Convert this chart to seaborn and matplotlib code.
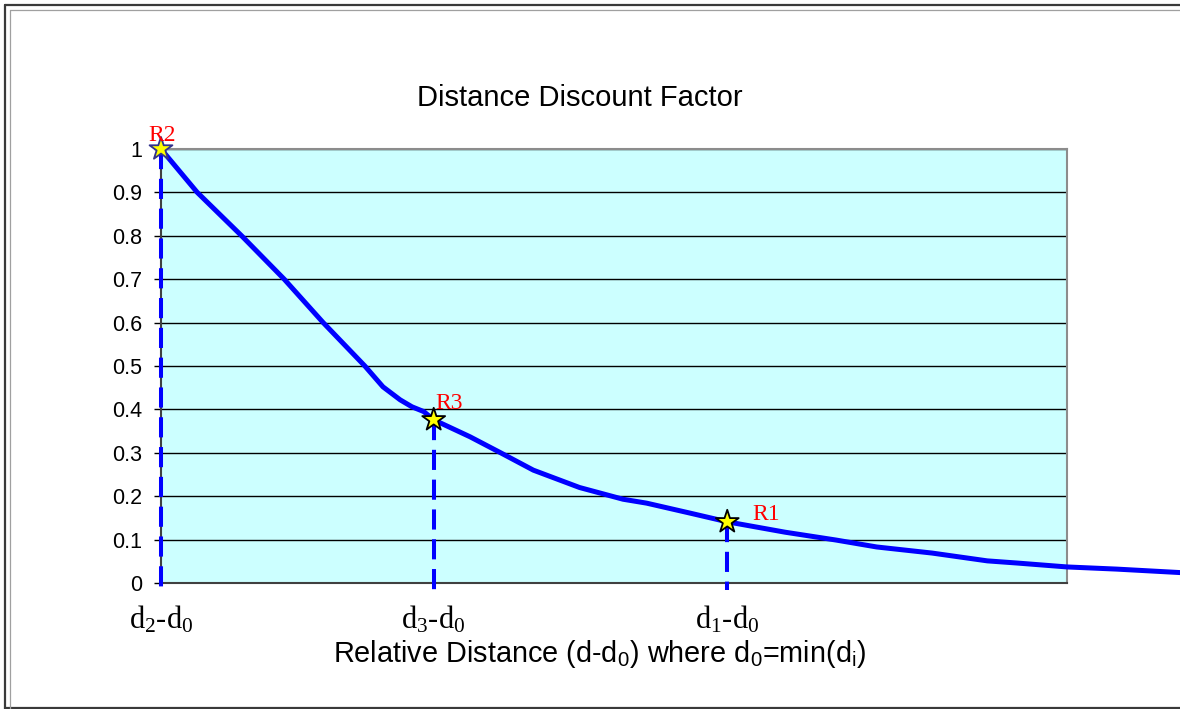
import matplotlib
matplotlib.use("Agg")
import matplotlib.pyplot as plt
import seaborn as sns
from matplotlib.lines import Line2D

# Discount factor as a function of relative distance (d - d0)
distance = [0.0, 0.40, 0.89, 1.36, 1.79, 2.25, 2.45, 2.64, 2.77, 2.90,
            3.01, 3.41, 3.74, 4.11, 4.62, 5.10, 5.36, 5.84, 6.25, 6.89,
            7.45, 7.90, 8.51, 9.12, 9.45, 10.0, 10.55, 11.25]
discount = [1.0, 0.90, 0.80, 0.70, 0.60, 0.50, 0.452, 0.422, 0.406, 0.395,
            0.376, 0.337, 0.301, 0.260, 0.220, 0.193, 0.184, 0.161, 0.141, 0.117,
            0.099, 0.083, 0.069, 0.051, 0.046, 0.037, 0.032, 0.024]

# Reference locations marked on the curve
ref_names = ["R2", "R3", "R1"]
ref_dist = [0.0, 3.01, 6.25]
ref_factor = [1.0, 0.376, 0.141]
ref_edge = ["#33338C", "black", "black"]
ref_label_offset = [(1.0, 6.0), (1.5, 8.0), (18.0, 1.5)]
ref_label_ha = ["center", "left", "left"]

xtick_labels = [r"$\mathregular{d_2}$-$\mathregular{d_0}$",
                r"$\mathregular{d_3}$-$\mathregular{d_0}$",
                r"$\mathregular{d_1}$-$\mathregular{d_0}$"]
ytick_values = [0.0, 0.1, 0.2, 0.3, 0.4, 0.5, 0.6, 0.7, 0.8, 0.9, 1.0]
ytick_labels = ["0", "0.1", "0.2", "0.3", "0.4", "0.5", "0.6", "0.7", "0.8", "0.9", "1"]

sns.set_style("white")
plt.rcParams["font.family"] = ["Liberation Sans", "DejaVu Sans"]

W, H = 1180, 709
fig = plt.figure(figsize=(W / 100, H / 100), dpi=100, facecolor="white")
ax = fig.add_axes([161 / W, 1 - 583 / H, 906 / W, 434 / H])
ax.set_facecolor("#CCFFFF")
ax.set_xlim(0, 10)
ax.set_ylim(0, 1)

# horizontal grid
ax.set_yticks(ytick_values, ytick_labels)
ax.yaxis.grid(True, color="black", lw=1.0)
ax.xaxis.grid(False)
ax.set_axisbelow(True)
ax.tick_params(axis="y", left=True, length=5, width=1.0, color="black",
               pad=8.5, labelsize=15.5, labelcolor="black")

# x ticks at the reference distances
ax.set_xticks(ref_dist, xtick_labels)
ax.tick_params(axis="x", bottom=True, length=0, pad=15, labelsize=22,
               labelcolor="black", labelfontfamily="Liberation Serif")

for side in ["left", "bottom"]:
    ax.spines[side].set_color("#404040")
    ax.spines[side].set_linewidth(1.5)
for side in ["top", "right"]:
    ax.spines[side].set_color("#8C8C8C")
    ax.spines[side].set_linewidth(1.5)

# dashed drop lines from each reference point
for x, y in zip(ref_dist, ref_factor):
    ax.plot([x, x], [y, -0.015], color="#0000FF", lw=2.9,
            linestyle=(0, (5.0, 2.4)), clip_on=False, zorder=4)

# discount curve
sns.lineplot(x=distance, y=discount, ax=ax, color="#0000FF", lw=3.6,
             sort=False, clip_on=False, zorder=3, solid_capstyle="round",
             solid_joinstyle="round")

# star markers
sns.scatterplot(x=ref_dist, y=ref_factor, ax=ax, marker="*", s=300,
                color="#FFFF00", edgecolor=ref_edge, linewidth=1.3,
                clip_on=False, zorder=6)

for name, x, y, off, ha in zip(ref_names, ref_dist, ref_factor,
                               ref_label_offset, ref_label_ha):
    ax.annotate(name, (x, y), xytext=off, textcoords="offset points",
                ha=ha, va="baseline", color="red", fontsize=17,
                family="Liberation Serif", annotation_clip=False, zorder=7)

ax.set_title("Distance Discount Factor", fontsize=21, color="black",
             x=(580 - 161) / 906, pad=31)
ax.set_xlabel(r"Relative Distance (d-$\mathregular{d_0}$) where "
              r"$\mathregular{d_0}$=min($\mathregular{d_i}$)",
              fontsize=20.8, color="black")
ax.xaxis.set_label_coords((600 - 161) / 906, -0.126)
ax.set_ylabel("")


# chart frame
def frame_line(xs, ys, **kw):
    fig.add_artist(Line2D([x / W for x in xs], [1 - y / H for y in ys],
                          transform=fig.transFigure, **kw))


frame_line([4.5, 4.5], [4.5, H], color="#3A3A3A", lw=1.6)
frame_line([4.5, W], [4.5, 4.5], color="#3A3A3A", lw=1.6)
frame_line([4.5, W], [707.5, 707.5], color="#3A3A3A", lw=1.6)
frame_line([10, 10], [10, H], color="#A0A0A0", lw=0.9)
frame_line([10, W], [9.8, 9.8], color="#A0A0A0", lw=0.9)

fig.savefig("out.png", dpi=100, facecolor="white")
